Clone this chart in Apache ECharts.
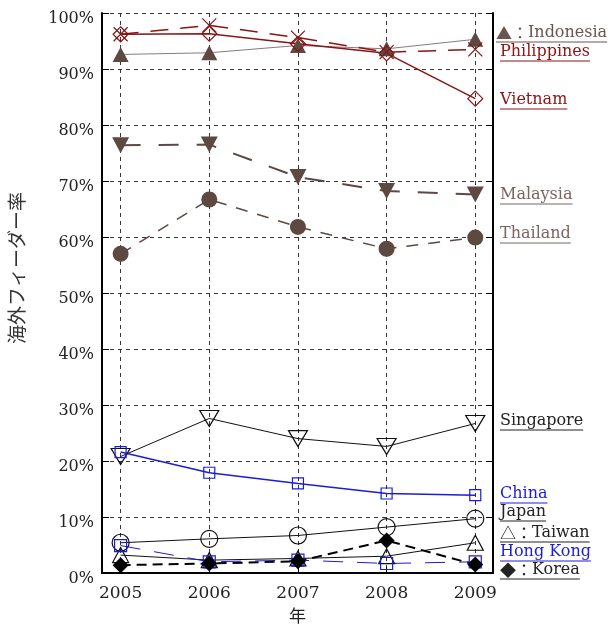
<!DOCTYPE html>
<html>
<head>
<meta charset="utf-8">
<script src="https://cdn.jsdelivr.net/npm/echarts@6/dist/echarts.min.js"></script>
<style>
html, body { margin: 0; padding: 0; background: #fff; }
#main { width: 608px; height: 626px; }
</style>
</head>
<body>
<div id="main"></div>
<script>
"use strict";

// 海外フィーダー率 2005-2009
const years = [2005, 2006, 2007, 2008, 2009];
const yTicks = [0, 10, 20, 30, 40, 50, 60, 70, 80, 90, 100];

const indonesia = [92.6, 92.9, 94.2, 93.6, 95.3];
const philippines = [96.2, 97.8, 95.6, 93.0, 93.5];
const vietnam = [96.2, 96.3, 94.5, 92.8, 84.7];
const malaysia = [76.4, 76.5, 70.7, 68.2, 67.6];
const thailand = [57.0, 66.7, 61.8, 57.9, 59.9];
const singapore = [20.8, 27.6, 24.0, 22.6, 26.7];
const china = [21.6, 17.9, 16.0, 14.2, 13.9];
const japan = [5.4, 6.1, 6.7, 8.2, 9.7];
const taiwan = [3.2, 2.3, 2.6, 3.0, 5.4];
const hongKong = [4.9, 2.0, 2.3, 1.7, 2.0];
const korea = [1.4, 1.7, 2.1, 5.8, 1.5];

// [記号, 名前]
const labelTexts = [['▲', 'Indonesia'], ['', 'Philippines'], ['', 'Vietnam'], ['', 'Malaysia'], ['', 'Thailand'],
  ['', 'Singapore'], ['', 'China'], ['', 'Japan'], ['△', 'Taiwan'], ['', 'Hong Kong'], ['◆', 'Korea']];

const BROWN = '#5e4842';
const RED = '#8b1414';
const BLUE = '#1c1cd8';
const INK = '#111';
const FONT = '"DejaVu Serif", "Noto Sans CJK JP", serif';
const CJK = '"Noto Sans CJK JP"';

let myChart = echarts.init(document.getElementById('main'));

function pairs(vals) {
  return vals.map(function (v, i) { return [years[i], v]; });
}

function line(name, vals, o) {
  return {
    name: name,
    type: 'line',
    data: pairs(vals),
    symbol: o.symbol,
    symbolSize: o.size,
    symbolRotate: o.rotate || 0,
    showSymbol: true,
    animation: false,
    lineStyle: {
      color: o.color,
      width: o.width,
      type: o.dash || 'solid',
    },
    itemStyle: o.filled ? {
      color: o.fill || o.color,
      borderWidth: 0,
    } : {
      color: 'transparent',
      borderColor: o.color,
      borderWidth: 1.2,
    },
    emphasis: { disabled: true },
  };
}

const crossPath = 'path://M0,0L10,10M0,10L10,0';

let series = [
  line('Indonesia', indonesia, { symbol: 'triangle', size: [16, 15], color: '#8a7a76', fill: BROWN, filled: true, width: 1 }),
  line('Philippines', philippines, { symbol: crossPath, size: 14, color: RED, width: 1.5, dash: [18, 12] }),
  line('Vietnam', vietnam, { symbol: 'diamond', size: [15, 15], color: RED, width: 1.5 }),
  line('Malaysia', malaysia, { symbol: 'triangle', rotate: 180, size: [17, 16], color: BROWN, filled: true, width: 2, dash: [20, 18] }),
  line('Thailand', thailand, { symbol: 'circle', size: 16, color: BROWN, filled: true, width: 1.5, dash: [12, 10] }),
  line('Singapore', singapore, { symbol: 'triangle', rotate: 180, size: [19, 16], color: INK, width: 1 }),
  line('China', china, { symbol: 'rect', size: 11, color: BLUE, width: 1.5 }),
  line('Japan', japan, { symbol: 'circle', size: 17, color: INK, width: 1 }),
  line('Taiwan', taiwan, { symbol: 'triangle', size: [16, 15], color: INK, width: 1 }),
  line('Hong Kong', hongKong, { symbol: 'rect', size: 12, color: BLUE, width: 1, dash: [20, 14] }),
  line('Korea', korea, { symbol: 'diamond', size: 16, color: '#000', filled: true, width: 2, dash: [10, 6] }),
];

// right-hand labels with underline
const labelColors = ['#6b5550', RED, RED, '#7a6560', '#7a6560', '#222', BLUE, '#222', '#222', BLUE, '#222'];
const labelY = [33, 52, 100, 195, 234, 421, 494, 512, 533, 552, 570];
const labelX = [496, 500, 500, 500, 500, 500, 500, 500, 500, 500, 500];

let measureCtx = document.createElement('canvas').getContext('2d');

let graphics = [];
labelTexts.forEach(function (t, i) {
  measureCtx.font = '16px ' + CJK;
  let w = t[0] ? measureCtx.measureText(t[0] + '：').width : 0;
  measureCtx.font = '16px ' + FONT;
  w += measureCtx.measureText(t[1]).width;
  graphics.push({
    type: 'text',
    x: labelX[i],
    y: labelY[i],
    style: {
      text: (t[0] ? '{s|' + t[0] + '：}' : '') + '{t|' + t[1] + '}',
      fill: labelColors[i],
      verticalAlign: 'middle',
      rich: {
        s: { fontFamily: CJK, fontSize: 16, fill: labelColors[i] },
        t: { fontFamily: FONT, fontSize: 16, fill: labelColors[i] },
      },
    },
  });
  graphics.push({
    type: 'line',
    shape: { x1: labelX[i], y1: labelY[i] + 9, x2: labelX[i] + w, y2: labelY[i] + 9 },
    style: { stroke: labelColors[i], lineWidth: 1 },
  });
});

const xMin = 2004.79;
const xMax = 2009.2;

let option = {
  backgroundColor: '#fff',
  animation: false,
  grid: {
    left: 102,
    right: 115,
    top: 13,
    bottom: 53,
    outerBoundsMode: 'none',
  },
  xAxis: [
    {
      type: 'value',
      min: xMin,
      max: xMax,
      splitNumber: 5,
      minInterval: 1,
      name: '年',
      nameLocation: 'middle',
      nameGap: 34,
      nameTextStyle: { fontFamily: 'Noto Sans CJK JP', fontSize: 17, color: '#222' },
      axisLine: { show: true, lineStyle: { color: '#000', width: 2 } },
      axisTick: { show: true, inside: true, length: 6, lineStyle: { color: '#000' } },
      axisLabel: {
        margin: 12,
        fontFamily: FONT,
        fontSize: 17,
        color: '#222',
        formatter: function (v) {
          return years.indexOf(Math.round(v * 1000) / 1000) >= 0 ? String(v) : '';
        },
      },
      splitLine: { show: true, lineStyle: { color: '#333', type: [4, 4], width: 1 } },
    },
    {
      type: 'value',
      position: 'top',
      min: xMin,
      max: xMax,
      splitNumber: 5,
      minInterval: 1,
      axisLine: { show: true, lineStyle: { color: '#000', width: 2 } },
      axisTick: { show: false },
      axisLabel: { show: false },
      splitLine: { show: false },
    },
  ],
  yAxis: [
    {
      type: 'value',
      min: yTicks[0],
      max: yTicks[yTicks.length - 1],
      interval: 10,
      name: '海外フィーダー率',
      nameLocation: 'middle',
      nameRotate: 90,
      nameGap: 76,
      nameTextStyle: { fontFamily: 'Noto Sans CJK JP', fontSize: 19, color: '#333', padding: [0, 0, 0, 50] },
      axisLine: { show: true, lineStyle: { color: '#000', width: 2 } },
      axisTick: { show: true, inside: true, length: 7, lineStyle: { color: '#000' } },
      axisLabel: {
        margin: 8,
        fontFamily: FONT,
        fontSize: 16,
        color: '#222',
        verticalAlign: 'top',
        lineHeight: 12,
        formatter: '{value}%',
      },
      splitLine: { show: true, lineStyle: { color: '#333', type: [4, 4], width: 1 } },
    },
    {
      type: 'value',
      position: 'right',
      min: yTicks[0],
      max: yTicks[yTicks.length - 1],
      interval: 10,
      axisLine: { show: true, lineStyle: { color: '#000', width: 2 } },
      axisTick: { show: true, inside: true, length: 7, lineStyle: { color: '#000' } },
      axisLabel: { show: false },
      splitLine: { show: false },
    },
  ],
  series: series,
  graphic: graphics,
};

myChart.setOption(option);
</script>
</body>
</html>
